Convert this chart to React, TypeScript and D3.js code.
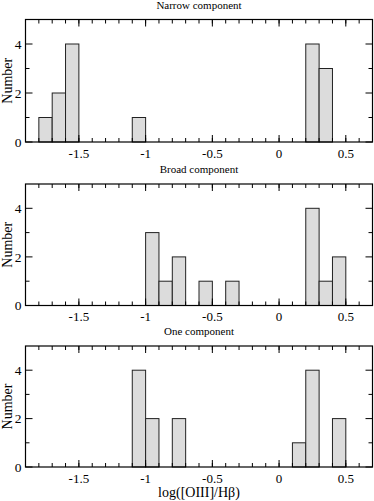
import React from 'react';
import { scaleLinear, range } from 'd3';

// histogram bins (left edge of each 0.1-wide bin) and counts
const binWidth = 0.1;
const narrowBins = [-1.8, -1.7, -1.6, -1.1, 0.2, 0.3];
const narrowCounts = [1, 2, 4, 1, 4, 3];
const broadBins = [-1.0, -0.9, -0.8, -0.6, -0.4, 0.2, 0.3, 0.4];
const broadCounts = [3, 1, 2, 1, 1, 4, 1, 2];
const oneBins = [-1.1, -1.0, -0.8, 0.1, 0.2, 0.4];
const oneCounts = [4, 2, 2, 1, 4, 2];

const panelTitles = ['Narrow component', 'Broad component', 'One component'];
const xTicks = [-1.5, -1, -0.5, 0, 0.5];
const xTickLabels = ['-1.5', '-1', '-0.5', '0', '0.5'];
const yTicks = [0, 2, 4];
const xDomain = [-1.9, 0.7];
const yDomain = [0, 5];

const W = 374;
const H = 501;
const left = 25.5;
const right = 372.5;
const panels = [
    { top: 19.5, bottom: 142 },
    { top: 184, bottom: 305.5 },
    { top: 346, bottom: 467 },
];
const font = 'Liberation Serif, Times New Roman, Times, serif';

const Panel = ({ idx, bins, counts }) => {
    const { top, bottom } = panels[idx];
    const x = scaleLinear().domain(xDomain).range([left, right]);
    const y = scaleLinear().domain(yDomain).range([bottom, top]);
    const minorX = range(-18, 7).map(d => d / 10);
    const minorY = [1, 3];
    const major = 7;
    const minor = 4;

    return (
        <g>
            <text x={(left + right) / 2} y={top - 11} textAnchor="middle" style={{ fontSize: 11, fontFamily: font }}>
                {panelTitles[idx]}
            </text>

            {/* bars */}
            {bins.map((b, i) => (
                <rect
                    key={i}
                    x={x(b)}
                    y={y(counts[i])}
                    width={x(b + binWidth) - x(b)}
                    height={y(0) - y(counts[i])}
                    fill="#dcdcdc"
                    stroke="#222"
                    strokeWidth={1}
                />
            ))}

            {/* ticks, inward on all four sides */}
            {minorX.map(v => (
                <g key={'mx' + v}>
                    <line x1={x(v)} x2={x(v)} y1={bottom} y2={bottom - minor} stroke="#000" />
                    <line x1={x(v)} x2={x(v)} y1={top} y2={top + minor} stroke="#000" />
                </g>
            ))}
            {xTicks.map((v, i) => (
                <g key={'x' + v}>
                    <line x1={x(v)} x2={x(v)} y1={bottom} y2={bottom - major} stroke="#000" />
                    <line x1={x(v)} x2={x(v)} y1={top} y2={top + major} stroke="#000" />
                    <text x={x(v)} y={bottom + 15.5} textAnchor="middle" style={{ fontSize: 13, fontFamily: font }}>
                        {xTickLabels[i]}
                    </text>
                </g>
            ))}
            {minorY.map(v => (
                <g key={'my' + v}>
                    <line x1={left} x2={left + minor} y1={y(v)} y2={y(v)} stroke="#000" />
                    <line x1={right} x2={right - minor} y1={y(v)} y2={y(v)} stroke="#000" />
                </g>
            ))}
            {yTicks.map(v => (
                <g key={'y' + v}>
                    <line x1={left} x2={left + major} y1={y(v)} y2={y(v)} stroke="#000" />
                    <line x1={right} x2={right - major} y1={y(v)} y2={y(v)} stroke="#000" />
                    <text x={left - 4} y={y(v)} dy="0.35em" textAnchor="end" style={{ fontSize: 13.5, fontFamily: font }}>
                        {v}
                    </text>
                </g>
            ))}

            <rect x={left} y={top} width={right - left} height={bottom - top} fill="none" stroke="#000" strokeWidth={1.2} />

            <text
                transform={`translate(12,${(top + bottom) / 2}) rotate(-90)`}
                textAnchor="middle"
                style={{ fontSize: 14, fontFamily: font }}
            >
                Number
            </text>
        </g>
    );
};

export default function App() {
    return (
        <svg width={W} height={H} style={{ position: 'absolute', left: 0, top: 0, background: '#fff' }}>
            <Panel idx={0} bins={narrowBins} counts={narrowCounts} />
            <Panel idx={1} bins={broadBins} counts={broadCounts} />
            <Panel idx={2} bins={oneBins} counts={oneCounts} />
            <text x={(left + right) / 2} y={497} textAnchor="middle" style={{ fontSize: 14, fontFamily: font }}>
                log([OIII]/Hβ)
            </text>
        </svg>
    );
}
